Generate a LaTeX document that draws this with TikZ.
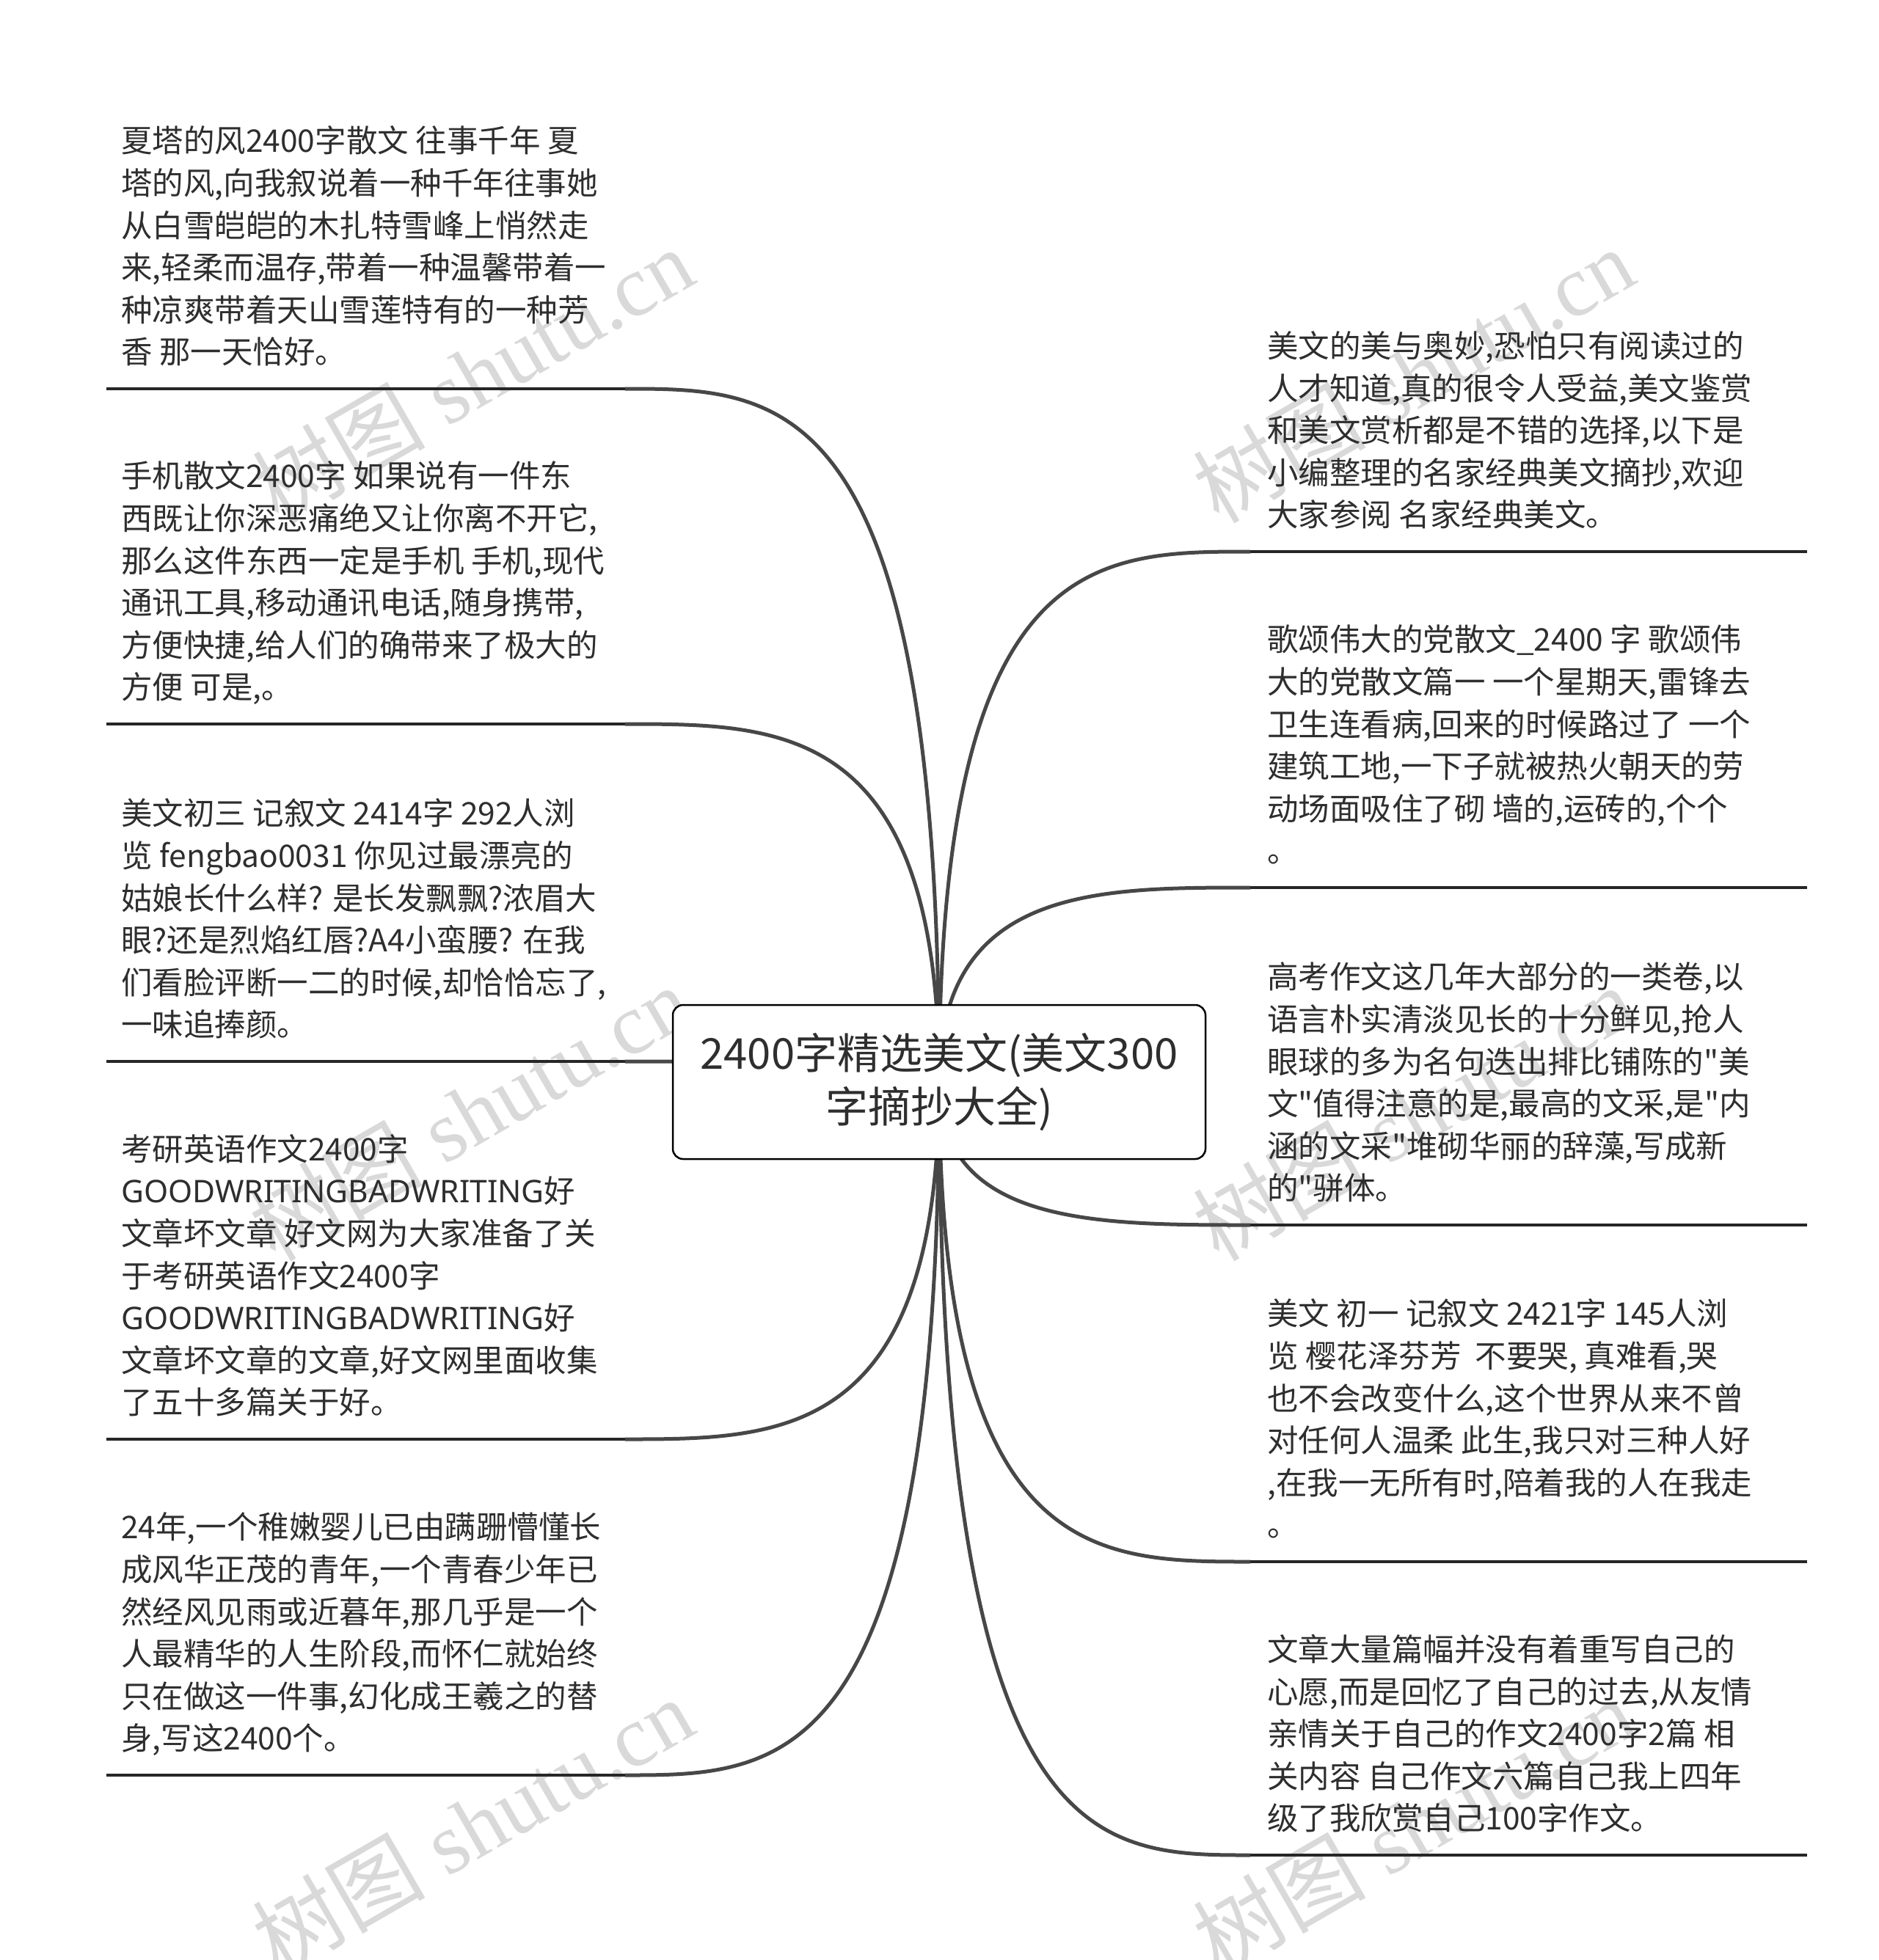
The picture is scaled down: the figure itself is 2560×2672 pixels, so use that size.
\documentclass[tikz,border=0pt]{standalone}
\usepackage{fontspec}
\setmainfont{Noto Sans CJK SC}[Ligatures=TeXOff]
\newfontfamily\wmlatin{Liberation Serif}
\newfontfamily\wmcjk{Noto Sans CJK SC}
\newfontfamily\latinwide{Noto Sans}
\usetikzlibrary{calc,backgrounds}
\definecolor{txt}{HTML}{2E2E2E}
\definecolor{connc}{HTML}{474747}
\definecolor{ulinec}{HTML}{262626}
\definecolor{wmc}{HTML}{D9D9D9}
\tikzset{
  leaf/.style={anchor=south west, inner sep=0pt, align=left, text=txt,
    font=\fontsize{42.5}{57.6}\selectfont, text depth=10pt},
  rootbox/.style={draw=black, line width=2.5pt, fill=white, rounded corners=14pt,
    minimum width=726pt, minimum height=210pt, align=center, inner sep=0pt,
    font=\fontsize{58}{73}\selectfont, text=txt},
  connline/.style={draw=connc, line width=5pt},
  uline/.style={draw=ulinec, line width=3.5pt},
  wmark/.style={text=wmc, rotate=30, inner sep=0pt,
    font=\wmlatin\fontsize{118}{118}\selectfont}
}
\begin{document}
\begin{tikzpicture}[x=1pt,y=-1pt]
\useasboundingbox (0,0) rectangle (2560,2672);

% centre
\node[rootbox] (c) at (1280,1475) {2400字精选美文(美文300\\字摘抄大全)};

% left leaves
\coordinate (l1a) at (145,530);  \coordinate (l1b) at (852,530);
\coordinate (l2a) at (145,987);  \coordinate (l2b) at (852,987);
\coordinate (l3a) at (145,1447); \coordinate (l3b) at (852,1447);
\coordinate (l4a) at (145,1962); \coordinate (l4b) at (852,1962);
\coordinate (l5a) at (145,2420); \coordinate (l5b) at (852,2420);
% right leaves
\coordinate (r1a) at (1704,752);  \coordinate (r1b) at (2463,752);
\coordinate (r2a) at (1704,1210); \coordinate (r2b) at (2463,1210);
\coordinate (r3a) at (1704,1670); \coordinate (r3b) at (2463,1670);
\coordinate (r4a) at (1704,2129); \coordinate (r4b) at (2463,2129);
\coordinate (r5a) at (1704,2529); \coordinate (r5b) at (2463,2529);

\node[leaf] (l1) at ($(l1a)+(20,-24)$) {夏塔的风2400字散文 往事千年 夏\\塔的风,向我叙说着一种千年往事她\\从白雪皑皑的木扎特雪峰上悄然走\\来,轻柔而温存,带着一种温馨带着一\\种凉爽带着天山雪莲特有的一种芳\\香 那一天恰好。};
\node[leaf] (l2) at ($(l2a)+(20,-24)$) {手机散文2400字 如果说有一件东\\西既让你深恶痛绝又让你离不开它,\\那么这件东西一定是手机 手机,现代\\通讯工具,移动通讯电话,随身携带,\\方便快捷,给人们的确带来了极大的\\方便 可是,。};
\node[leaf] (l3) at ($(l3a)+(20,-24)$) {美文初三 记叙文 2414字 292人浏\\览 fengbao0031 你见过最漂亮的\\姑娘长什么样? 是长发飘飘?浓眉大\\眼?还是烈焰红唇?A4小蛮腰? 在我\\们看脸评断一二的时候,却恰恰忘了,\\一味追捧颜。};
\node[leaf] (l4) at ($(l4a)+(20,-24)$) {考研英语作文2400字\\{\latinwide GOODWRITINGBADWRITING}好\\文章坏文章 好文网为大家准备了关\\于考研英语作文2400字\\{\latinwide GOODWRITINGBADWRITING}好\\文章坏文章的文章,好文网里面收集\\了五十多篇关于好。};
\node[leaf] (l5) at ($(l5a)+(20,-24)$) {24年,一个稚嫩婴儿已由蹒跚懵懂长\\成风华正茂的青年,一个青春少年已\\然经风见雨或近暮年,那几乎是一个\\人最精华的人生阶段,而怀仁就始终\\只在做这一件事,幻化成王羲之的替\\身,写这2400个。};

\node[leaf] (r1) at ($(r1a)+(23,-24)$) {美文的美与奥妙,恐怕只有阅读过的\\人才知道,真的很令人受益,美文鉴赏\\和美文赏析都是不错的选择,以下是\\小编整理的名家经典美文摘抄,欢迎\\大家参阅 名家经典美文。};
\node[leaf] (r2) at ($(r2a)+(23,-24)$) {歌颂伟大的党散文\_2400 字 歌颂伟\\大的党散文篇一 一个星期天,雷锋去\\卫生连看病,回来的时候路过了 一个\\建筑工地,一下子就被热火朝天的劳\\动场面吸住了砌 墙的,运砖的,个个\\。};
\node[leaf] (r3) at ($(r3a)+(23,-24)$) {高考作文这几年大部分的一类卷,以\\语言朴实清淡见长的十分鲜见,抢人\\眼球的多为名句迭出排比铺陈的"美\\文"值得注意的是,最高的文采,是"内\\涵的文采"堆砌华丽的辞藻,写成新\\的"骈体。};
\node[leaf] (r4) at ($(r4a)+(23,-24)$) {美文 初一 记叙文 2421字 145人浏\\览 樱花泽芬芳\ \ 不要哭, 真难看,哭\\也不会改变什么,这个世界从来不曾\\对任何人温柔 此生,我只对三种人好\\,在我一无所有时,陪着我的人在我走\\。};
\node[leaf] (r5) at ($(r5a)+(23,-24)$) {文章大量篇幅并没有着重写自己的\\心愿,而是回忆了自己的过去,从友情\\亲情关于自己的作文2400字2篇 相\\关内容 自己作文六篇自己我上四年\\级了我欣赏自己100字作文。};

% underlines
\foreach \n in {l1,l2,l3,l4,l5,r1,r2,r3,r4,r5}
  \draw[uline] (\n a) -- (\n b);

% background: white page, watermarks, connectors behind the centre box
\begin{scope}[on background layer]
\fill[white] (0,0) rectangle (2560,2672);
\begin{scope}
\clip (0,0) rectangle (2560,2672);
\node[wmark] (wm1) at (644,511)  {{\wmcjk 树图} shutu.cn};
\node[wmark] (wm2) at (1926,511) {{\wmcjk 树图} shutu.cn};
\node[wmark] (wm3) at (640,1517) {{\wmcjk 树图} shutu.cn};
\node[wmark] (wm4) at (1926,1517){{\wmcjk 树图} shutu.cn};
\node[wmark] (wm5) at (644,2488) {{\wmcjk 树图} shutu.cn};
\node[wmark] (wm6) at (1926,2488){{\wmcjk 树图} shutu.cn};
\end{scope}
\foreach \e in {l1b,l2b,l3b,l4b,l5b,r1a,r2a,r3a,r4a,r5a}
  \draw[connline] (c.center) .. controls (c.center |- \e) and ($(c.center |- \e)!0.5!(\e)$) .. (\e);
\end{scope}
\end{tikzpicture}
\end{document}
